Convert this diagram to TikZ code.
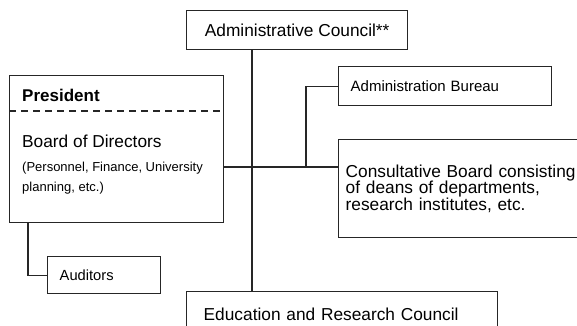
\documentclass[tikz,border=0pt]{standalone}
\usepackage{fontspec}
\setmainfont{Liberation Sans}
\usepackage{tikz}
\usetikzlibrary{positioning}

\begin{document}
\begin{tikzpicture}[x=1pt, y=-1pt,
	unit/.style = {draw = black!85, line width = 1.4pt, rectangle, anchor = north west, inner ysep = 0pt},
	link/.style = {draw = black!85, line width = 1.2pt},
	big/.style = {font = \fontsize{17.3}{16.5}\selectfont},
	mid/.style = {font = \fontsize{15}{17}\selectfont}]
\useasboundingbox (0, 0) rectangle (577, 325);
\node[unit, big, minimum width = 221pt, minimum height = 39pt] (council) at (186, 10) {Administrative Council**};
\node[unit, minimum width = 214pt, minimum height = 147pt] (board) at (9, 75) {};
\node[anchor = west, inner sep = 0pt, font = \fontsize{17}{17}\bfseries] (pres) at (22, 95) {President};
\draw[link, dash pattern = on 7pt off 5pt]
	([yshift = -36pt]board.north west) -- ([yshift = -36pt]board.north east);
\node[anchor = west, inner sep = 0pt, big] (bod) at (22, 141) {Board of Directors};
\node[anchor = north west, inner sep = 0pt, align = left, font = \fontsize{13}{20}\selectfont] (bodnote)
	at (22, 162) {(Personnel, Finance, University\\planning, etc.)};
\node[unit, mid, minimum height = 39pt, inner xsep = 12pt, text width = 189pt, align = left] (bureau) at (338, 66) {Administration Bureau};
\node[unit, big, minimum height = 98pt, inner xsep = 7pt, text width = 240pt, align = left] (cons) at (338, 139)
	{Consultative Board consisting\\of deans of departments,\\research institutes, etc.};
\node[unit, font = \fontsize{14.7}{17}\selectfont, minimum height = 37pt, inner xsep = 12pt, text width = 89pt, align = left] (aud) at (47, 256) {Auditors};
\node[unit, big, minimum height = 45pt, inner xsep = 17pt, text width = 277pt, align = left] (edu) at (186, 291) {Education and Research Council};
\coordinate (hub) at (252, 167);
\coordinate (fork) at (306, 167);
\draw[link] ([xshift = 66pt]council.south west) -- ([xshift = 66pt]edu.north west);
\draw[link] (board.east |- hub) -- (cons.west |- hub);
\draw[link] (fork) |- (bureau.west);
\draw[link] ([xshift = 19pt]board.south west) |- (aud.west);
\end{tikzpicture}
\end{document}
